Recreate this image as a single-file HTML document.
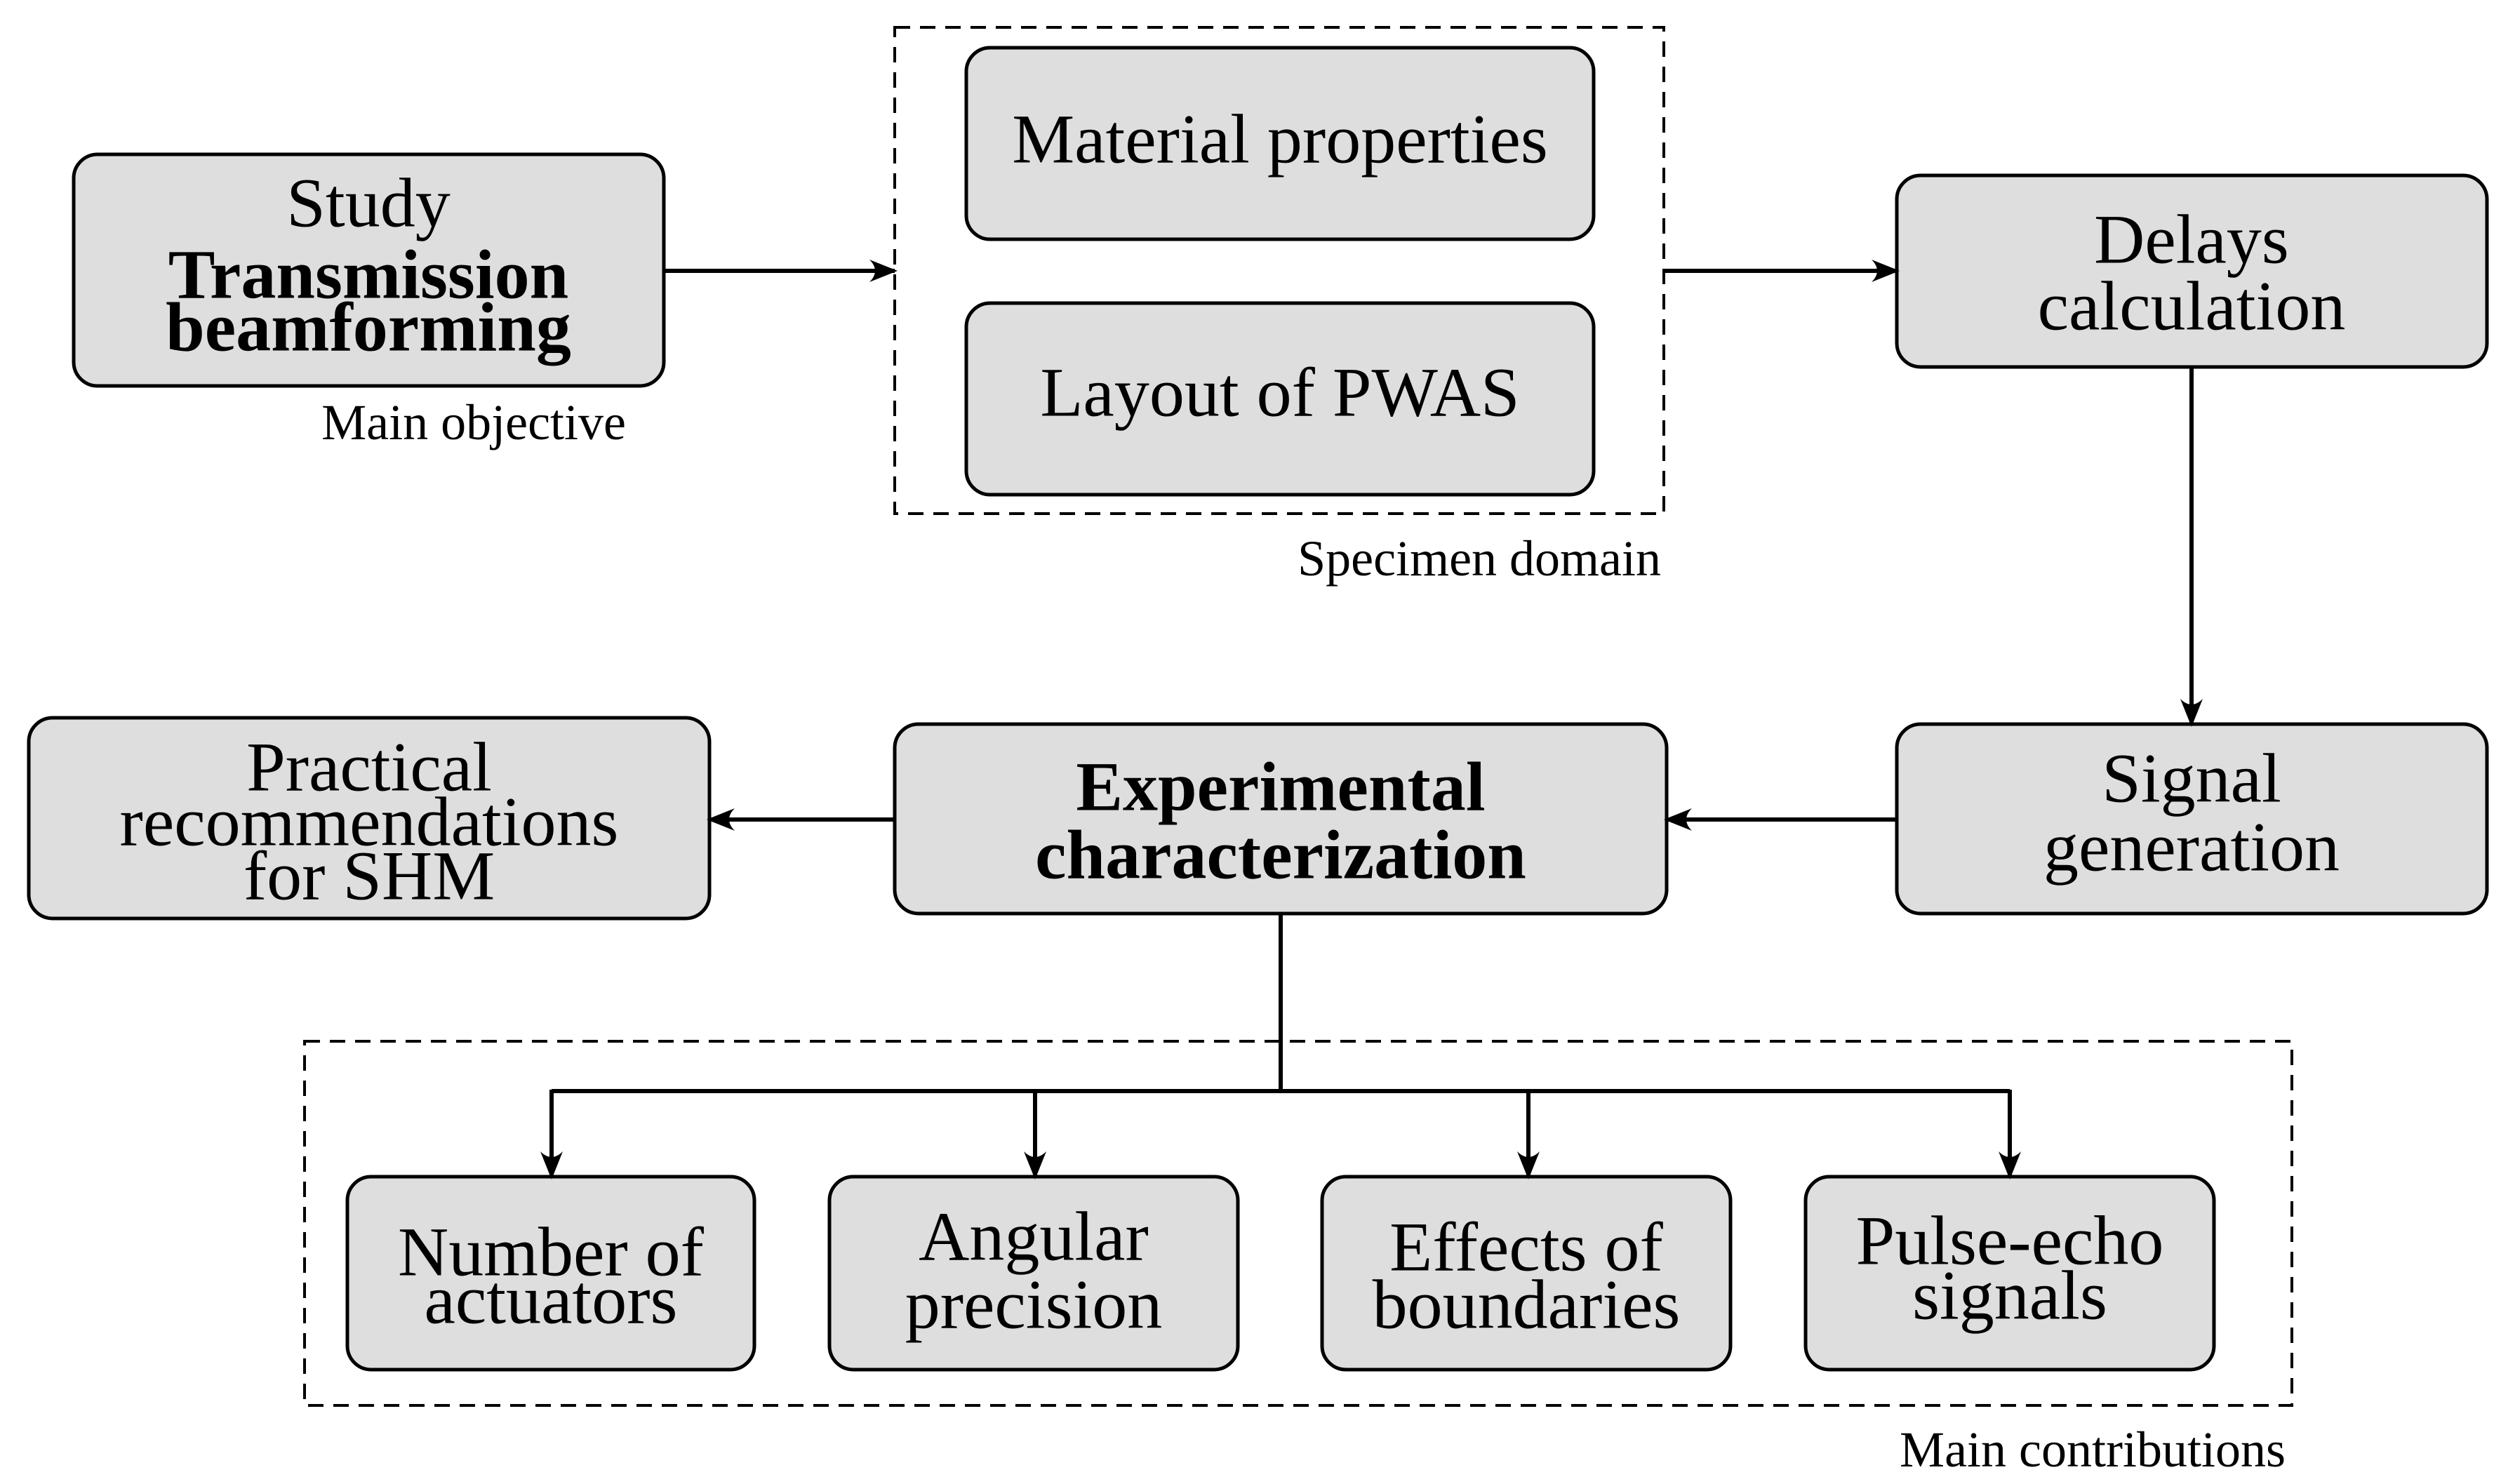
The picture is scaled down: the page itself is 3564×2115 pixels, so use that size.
<!DOCTYPE html>
<html><head><meta charset="utf-8"><style>
html,body{margin:0;padding:0;background:#fff}
svg{display:block}
text{font-family:"Liberation Serif",serif;fill:#000}
.t{font-size:100px;text-anchor:middle;dominant-baseline:central}
.b{font-weight:bold}
.s{font-size:72px;dominant-baseline:central}
</style></head><body>
<svg width="3564" height="2115" viewBox="0 0 3564 2115" xmlns="http://www.w3.org/2000/svg">
<defs>
<marker id="ar" viewBox="0 0 20 20" refX="18" refY="10" markerWidth="40" markerHeight="40" markerUnits="userSpaceOnUse" orient="auto"><path d="M0,2 Q8,10 0,18 L20,10 Z" fill="#000"/></marker></defs>
<g fill="#dedede" stroke="#000" stroke-width="5">
<rect x="105" y="220" width="841" height="330" rx="34"/>
<rect x="1377" y="68" width="894" height="273" rx="34"/>
<rect x="1377" y="432" width="894" height="273" rx="34"/>
<rect x="2703" y="250" width="841" height="273" rx="34"/>
<rect x="2703" y="1032" width="841" height="270" rx="34"/>
<rect x="1275" y="1032" width="1100" height="270" rx="34"/>
<rect x="41" y="1023" width="970" height="286" rx="34"/>
<rect x="495" y="1677" width="580" height="275" rx="34"/>
<rect x="1182" y="1677" width="582" height="275" rx="34"/>
<rect x="1884" y="1677" width="582" height="275" rx="34"/>
<rect x="2573" y="1677" width="582" height="275" rx="34"/>
</g>
<g fill="none" stroke="#000" stroke-width="4" stroke-dasharray="22,14">
<rect x="1275" y="39" width="1096" height="693"/>
<rect x="434" y="1484" width="2832" height="519"/>
</g>
<g fill="none" stroke="#000" stroke-width="6">
<line x1="946" y1="386" x2="1275" y2="386" marker-end="url(#ar)"/>
<line x1="2371" y1="386" x2="2703" y2="386" marker-end="url(#ar)"/>
<line x1="3123" y1="523" x2="3123" y2="1032" marker-end="url(#ar)"/>
<line x1="2703" y1="1168" x2="2375" y2="1168" marker-end="url(#ar)"/>
<line x1="1275" y1="1168" x2="1011" y2="1168" marker-end="url(#ar)"/>
<line x1="1825" y1="1302" x2="1825" y2="1555"/>
<line x1="786" y1="1555" x2="2864" y2="1555"/>
<line x1="786" y1="1553" x2="786" y2="1677" marker-end="url(#ar)"/>
<line x1="1475" y1="1553" x2="1475" y2="1677" marker-end="url(#ar)"/>
<line x1="2178" y1="1553" x2="2178" y2="1677" marker-end="url(#ar)"/>
<line x1="2864" y1="1553" x2="2864" y2="1677" marker-end="url(#ar)"/>
</g>
<text class="t" x="525" y="289">Study</text>
<text class="t b" x="525" y="391">Transmission</text>
<text class="t b" x="525" y="466">beamforming</text>
<text class="s" x="892" y="602" text-anchor="end">Main objective</text>
<text class="t" x="1824" y="198">Material properties</text>
<text class="t" x="1824" y="559">Layout of PWAS</text>
<text class="s" x="2367" y="796" text-anchor="end">Specimen domain</text>
<text class="t" x="3123" y="341">Delays</text>
<text class="t" x="3123" y="436">calculation</text>
<text class="t" x="3123" y="1109">Signal</text>
<text class="t" x="3123" y="1207">generation</text>
<text class="t b" x="1825" y="1121">Experimental</text>
<text class="t b" x="1825" y="1218">characterization</text>
<text class="t" x="526" y="1093">Practical</text>
<text class="t" x="526" y="1171">recommendations</text>
<text class="t" x="526" y="1248">for SHM</text>
<text class="t" x="785" y="1784">Number of</text>
<text class="t" x="785" y="1852">actuators</text>
<text class="t" x="1473" y="1762">Angular</text>
<text class="t" x="1473" y="1859">precision</text>
<text class="t" x="2175" y="1777">Effects of</text>
<text class="t" x="2175" y="1859">boundaries</text>
<text class="t" x="2864" y="1768">Pulse-echo</text>
<text class="t" x="2864" y="1846">signals</text>
<text class="s" x="3257" y="2066" text-anchor="end">Main contributions</text>
</svg>
</body></html>
